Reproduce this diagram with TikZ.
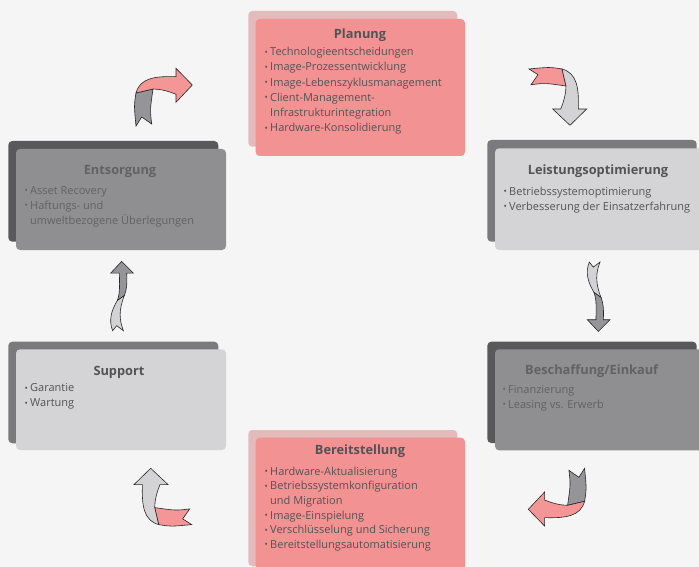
\documentclass[tikz,border=0pt]{standalone}
\usepackage{graphicx}
\usepackage{fontspec}
\setmainfont{Open Sans}
\usepackage{tikz}

\definecolor{bg}{HTML}{F5F5F5}
\definecolor{rosecard}{HTML}{F39292}
\definecolor{roseback}{HTML}{E3BBBB}
\definecolor{lightcard}{HTML}{D4D4D6}
\definecolor{lightback}{HTML}{7A7A7C}
\definecolor{midcard}{HTML}{8F8F91}
\definecolor{midback}{HTML}{59595B}
\definecolor{rosearrow}{HTML}{F59696}
\definecolor{lightarrow}{HTML}{D3D3D5}
\definecolor{midarrow}{HTML}{959597}
\definecolor{inkdark}{HTML}{535355}
\definecolor{inkmid}{HTML}{626264}

\newcommand{\blt}{\makebox[5.5pt][l]{\raisebox{0.06em}{\scalebox{0.8}{\textbullet}}}}
\newcommand{\cnt}{\makebox[5.5pt]{}}
\newcommand{\items}[1]{\begin{tabular}[t]{@{}l@{}}#1\end{tabular}}

% curved ribbon arrow: centre, rotation, tail colour, head colour
\newcommand{\bendarrow}[4]{%
  \begin{scope}[shift={#1},rotate=#2]
    \filldraw[arrowline,fill=#3] (-28,-4) .. controls (-30,8) .. (-28,29) -- (-22.3,20) -- (-12.3,27)
      .. controls (-14,13) .. (-11,-8) -- cycle;
    \filldraw[arrowline,fill=#4] (-28,-4) .. controls (-24,-19) and (-9,-21) .. (12,-20.3) -- (12,-28.7)
      -- (28.3,-12) -- (12,5.3) -- (12,-2.7) .. controls (4,-6) and (-4,-8) .. (-11,-8) -- cycle;
  \end{scope}}

% straight wavy arrow: centre, yscale, tail colour, head colour
\newcommand{\wavyarrow}[4]{%
  \begin{scope}[shift={#1},yscale=#2]
    \filldraw[arrowline,fill=#3] (-8.7,-34.3) -- (-4.7,-29.3) -- (2,-34.3) .. controls (-2,-24) and (-3,-14) .. (3,1)
      -- (-4,-4) .. controls (-10,-14) and (-13,-24) .. (-8.7,-34.3) -- cycle;
    \filldraw[arrowline,fill=#4] (-4,-4) .. controls (-1,4) and (-2,14) .. (-2,23.3) -- (-10.7,23.3) -- (0.3,35)
      -- (12,23.3) -- (5.3,23.3) .. controls (6,12) and (5,6) .. (3,1) -- cycle;
  \end{scope}}

\begin{document}
\begin{tikzpicture}[x=1pt,y=-1pt,
  card/.style={rounded corners=4pt},
  ttl/.style={anchor=base,inner sep=0pt,font=\fontsize{12.8}{15}\selectfont\bfseries},
  lst/.style={anchor=base west,inner sep=0pt,font=\fontsize{11}{15.2}\selectfont},
  arrowline/.style={draw=black!85,line width=0.6pt,line join=miter}]
  \clip (0,0) rectangle (699,567);
  \fill[bg] (0,0) rectangle (699,567);

  \fill[card,roseback] (248.3,11) rectangle (457.3,146.7);
  \fill[card,rosecard] (255.7,19) rectangle (465,156);
  \fill[card,lightback] (487.3,140) rectangle (696.7,241.7);
  \fill[card,lightcard] (495,148.3) rectangle (704,250);
  \fill[card,midback] (487.3,341.7) rectangle (696.7,443);
  \fill[card,midcard] (495,349.3) rectangle (704,450.3);
  \fill[card,roseback] (248.3,430) rectangle (457.3,566);
  \fill[card,rosecard] (255.7,437.7) rectangle (465,580);
  \fill[card,lightback] (8.3,341.7) rectangle (218.3,443.3);
  \fill[card,lightcard] (16,349.3) rectangle (226,450);
  \fill[card,midback] (8.3,141) rectangle (218.3,241.7);
  \fill[card,midcard] (16,149) rectangle (226,250);

  \node[ttl,text=inkdark] (planung) at (360,39) {Planung};
  \node[lst,text=inkdark] (planung list) at (264.5,55.7) {\items{\blt Technologieentscheidungen\\
    \blt Image-Prozessentwicklung\\ \blt Image-Lebenszyklusmanagement\\ \blt Client-Management-\\
    \cnt Infrastrukturintegration\\ \blt Hardware-Konsolidierung}};

  \node[ttl,text=inkdark] (leistung) at (598,175) {Leistungsoptimierung};
  \node[lst,text=inkdark] (leistung list) at (503.5,195.3) {\items{\blt Betriebssystemoptimierung\\
    \blt Verbesserung der Einsatzerfahrung}};

  \node[ttl,text=inkmid] (beschaffung) at (591.7,374.3) {Beschaffung/Einkauf};
  \node[lst,text=inkmid] (beschaffung list) at (502.5,393.3) {\items{\blt Finanzierung\\ \blt Leasing vs. Erwerb}};

  \node[ttl,text=inkdark] (bereitstellung) at (360,454) {Bereitstellung};
  \node[lst,text=inkdark,font=\fontsize{11}{14.7}\selectfont] (bereitstellung list) at (264.5,475)
    {\items{\blt Hardware-Aktualisierung\\ \blt Betriebssystemkonfiguration\\ \cnt und Migration\\
    \blt Image-Einspielung\\ \blt Verschlüsselung und Sicherung\\ \blt Bereitstellungsautomatisierung}};

  \node[ttl,text=inkdark] (support) at (119,375) {Support};
  \node[lst,text=inkdark] (support list) at (24.5,391.7) {\items{\blt Garantie\\ \blt Wartung}};

  \node[ttl,text=inkmid] (entsorgung) at (120,174.3) {Entsorgung};
  \node[lst,text=inkmid] (entsorgung list) at (24.5,194) {\items{\blt Asset Recovery\\ \blt Haftungs- und\\
    \cnt umweltbezogene Überlegungen}};

  \bendarrow{(164,97)}{0}{midarrow}{rosearrow}
  \bendarrow{(558,97)}{-90}{rosearrow}{lightarrow}
  \wavyarrow{(598,296.4)}{1}{lightarrow}{midarrow}
  \bendarrow{(556.6,497.3)}{180}{midarrow}{rosearrow}
  \bendarrow{(162.7,496.6)}{90}{rosearrow}{lightarrow}
  \wavyarrow{(121.4,296.4)}{-1}{lightarrow}{midarrow}
\end{tikzpicture}
\end{document}
